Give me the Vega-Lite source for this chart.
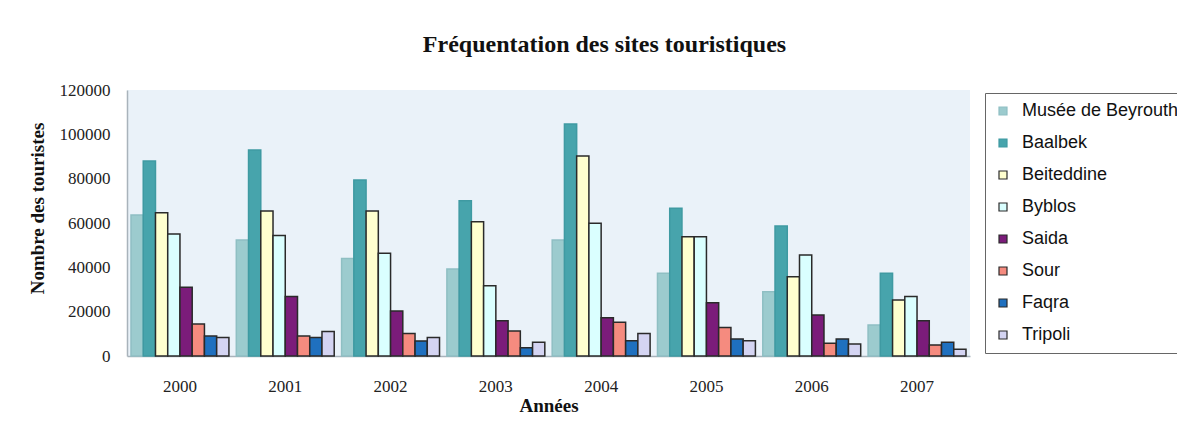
{
  "$schema": "https://vega.github.io/schema/vega-lite/v6.json",
  "autosize": "none",
  "width": 843,
  "height": 266,
  "padding": {"left": 127, "top": 90, "right": 207, "bottom": 85},
  "background": "white",
  "title": {
    "text": "Fréquentation des sites touristiques",
    "font": "Liberation Serif",
    "fontSize": 24,
    "fontWeight": "bold",
    "color": "#111",
    "anchor": "middle",
    "dx": 56,
    "offset": 24
  },
  "config": {
    "view": {"fill": "#eaf2f9", "stroke": null},
    "axis": {"domainColor": "#a9b3bb", "domainWidth": 1.5, "ticks": false, "grid": false, "labelFont": "Liberation Serif", "labelFontSize": 17, "labelColor": "#222", "titleFont": "Liberation Serif", "titleFontSize": 19, "titleFontWeight": "bold", "titleColor": "#111"}
  },
  "data": {
    "values": [
      {"annee": "2000", "site": "Musée de Beyrouth", "v": 63600},
      {"annee": "2000", "site": "Baalbek", "v": 88000},
      {"annee": "2000", "site": "Beiteddine", "v": 64600},
      {"annee": "2000", "site": "Byblos", "v": 55000},
      {"annee": "2000", "site": "Saida", "v": 31000},
      {"annee": "2000", "site": "Sour", "v": 14400},
      {"annee": "2000", "site": "Faqra", "v": 9000},
      {"annee": "2000", "site": "Tripoli", "v": 8300},
      {"annee": "2001", "site": "Musée de Beyrouth", "v": 52300},
      {"annee": "2001", "site": "Baalbek", "v": 92900},
      {"annee": "2001", "site": "Beiteddine", "v": 65400},
      {"annee": "2001", "site": "Byblos", "v": 54400},
      {"annee": "2001", "site": "Saida", "v": 26800},
      {"annee": "2001", "site": "Sour", "v": 9000},
      {"annee": "2001", "site": "Faqra", "v": 8400},
      {"annee": "2001", "site": "Tripoli", "v": 11100},
      {"annee": "2002", "site": "Musée de Beyrouth", "v": 44000},
      {"annee": "2002", "site": "Baalbek", "v": 79400},
      {"annee": "2002", "site": "Beiteddine", "v": 65400},
      {"annee": "2002", "site": "Byblos", "v": 46300},
      {"annee": "2002", "site": "Saida", "v": 20300},
      {"annee": "2002", "site": "Sour", "v": 10200},
      {"annee": "2002", "site": "Faqra", "v": 6800},
      {"annee": "2002", "site": "Tripoli", "v": 8300},
      {"annee": "2003", "site": "Musée de Beyrouth", "v": 39200},
      {"annee": "2003", "site": "Baalbek", "v": 70000},
      {"annee": "2003", "site": "Beiteddine", "v": 60600},
      {"annee": "2003", "site": "Byblos", "v": 31700},
      {"annee": "2003", "site": "Saida", "v": 15900},
      {"annee": "2003", "site": "Sour", "v": 11300},
      {"annee": "2003", "site": "Faqra", "v": 3700},
      {"annee": "2003", "site": "Tripoli", "v": 6200},
      {"annee": "2004", "site": "Musée de Beyrouth", "v": 52300},
      {"annee": "2004", "site": "Baalbek", "v": 104700},
      {"annee": "2004", "site": "Beiteddine", "v": 90200},
      {"annee": "2004", "site": "Byblos", "v": 59900},
      {"annee": "2004", "site": "Saida", "v": 17300},
      {"annee": "2004", "site": "Sour", "v": 15200},
      {"annee": "2004", "site": "Faqra", "v": 6900},
      {"annee": "2004", "site": "Tripoli", "v": 10200},
      {"annee": "2005", "site": "Musée de Beyrouth", "v": 37300},
      {"annee": "2005", "site": "Baalbek", "v": 66600},
      {"annee": "2005", "site": "Beiteddine", "v": 53800},
      {"annee": "2005", "site": "Byblos", "v": 53800},
      {"annee": "2005", "site": "Saida", "v": 24000},
      {"annee": "2005", "site": "Sour", "v": 12900},
      {"annee": "2005", "site": "Faqra", "v": 7700},
      {"annee": "2005", "site": "Tripoli", "v": 6900},
      {"annee": "2006", "site": "Musée de Beyrouth", "v": 29000},
      {"annee": "2006", "site": "Baalbek", "v": 58600},
      {"annee": "2006", "site": "Beiteddine", "v": 35800},
      {"annee": "2006", "site": "Byblos", "v": 45600},
      {"annee": "2006", "site": "Saida", "v": 18500},
      {"annee": "2006", "site": "Sour", "v": 5700},
      {"annee": "2006", "site": "Faqra", "v": 7700},
      {"annee": "2006", "site": "Tripoli", "v": 5400},
      {"annee": "2007", "site": "Musée de Beyrouth", "v": 14000},
      {"annee": "2007", "site": "Baalbek", "v": 37300},
      {"annee": "2007", "site": "Beiteddine", "v": 25300},
      {"annee": "2007", "site": "Byblos", "v": 26800},
      {"annee": "2007", "site": "Saida", "v": 15900},
      {"annee": "2007", "site": "Sour", "v": 5000},
      {"annee": "2007", "site": "Faqra", "v": 6200},
      {"annee": "2007", "site": "Tripoli", "v": 3000}
    ]
  },
  "mark": {"type": "bar", "strokeWidth": 1.5},
  "encoding": {
    "x": {
      "field": "annee", "type": "nominal", "title": "Années",
      "scale": {"paddingInner": 0.07, "paddingOuter": 0.038},
      "axis": {"labelAngle": 0, "labelPadding": 22, "titlePadding": 2}
    },
    "xOffset": {
      "field": "site", "type": "nominal",
      "sort": ["Musée de Beyrouth", "Baalbek", "Beiteddine", "Byblos", "Saida", "Sour", "Faqra", "Tripoli"],
      "scale": {"paddingInner": 0, "paddingOuter": 0}
    },
    "y": {
      "field": "v", "type": "quantitative", "title": "Nombre des touristes",
      "scale": {"domain": [0, 120000]},
      "axis": {"values": [0, 20000, 40000, 60000, 80000, 100000, 120000], "format": "d", "labelPadding": 17, "titleX": -90, "titleY": 118, "titleAngle": -90, "titleAlign": "center", "titleBaseline": "middle"}
    },
    "color": {
      "field": "site", "type": "nominal",
      "sort": ["Musée de Beyrouth", "Baalbek", "Beiteddine", "Byblos", "Saida", "Sour", "Faqra", "Tripoli"],
      "scale": {
        "domain": ["Musée de Beyrouth", "Baalbek", "Beiteddine", "Byblos", "Saida", "Sour", "Faqra", "Tripoli"],
        "range": ["#9ccbce", "#47a4ac", "#ffffcf", "#daffff", "#7b1c7a", "#f58b7f", "#1f70bf", "#d4d4f2"]
      },
      "legend": {
        "title": null, "orient": "none", "legendX": 858, "legendY": 3,
        "padding": 9, "strokeColor": "#666", "fillColor": "white",
        "symbolType": "square", "symbolSize": 64, "symbolStrokeWidth": 1.2,
        "labelFont": "Liberation Sans", "labelFontSize": 18, "labelColor": "#111",
        "labelOffset": 10, "rowPadding": 14, "labelLimit": 300
      }
    },
    "stroke": {
      "field": "site", "type": "nominal",
      "scale": {
        "domain": ["Musée de Beyrouth", "Baalbek", "Beiteddine", "Byblos", "Saida", "Sour", "Faqra", "Tripoli"],
        "range": ["#8fbfc3", "#3f9aa2", "#2a2a2a", "#2a2a2a", "#2a2a2a", "#2a2a2a", "#2a2a2a", "#2a2a2a"]
      },
      "legend": null
    }
  }
}
